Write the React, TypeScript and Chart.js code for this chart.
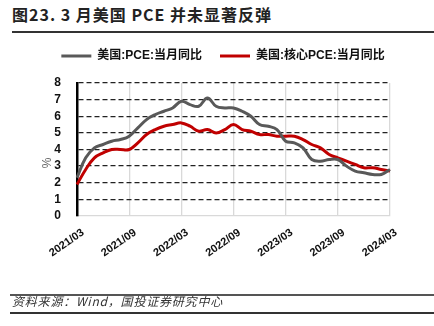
import { useEffect, useRef } from 'react';
import { Chart, registerables } from 'chart.js';

Chart.register(...registerables);

const titleText = '图23. 3 月美国 PCE 并未显著反弹';
const sourceText = '资料来源：Wind，国投证券研究中心';
const unitLabel = '%';

const months = [
  '2021/03', '2021/04', '2021/05', '2021/06', '2021/07', '2021/08', '2021/09',
  '2021/10', '2021/11', '2021/12', '2022/01', '2022/02', '2022/03', '2022/04',
  '2022/05', '2022/06', '2022/07', '2022/08', '2022/09', '2022/10', '2022/11',
  '2022/12', '2023/01', '2023/02', '2023/03', '2023/04', '2023/05', '2023/06',
  '2023/07', '2023/08', '2023/09', '2023/10', '2023/11', '2023/12', '2024/01',
  '2024/02', '2024/03',
];

const seriesNames = ['美国:PCE:当月同比', '美国:核心PCE:当月同比'];

const pceYoY = [
  2.3, 3.5, 4.1, 4.3, 4.5, 4.6, 4.8, 5.3, 5.8, 6.1, 6.3, 6.5, 6.9, 6.7, 6.6,
  7.1, 6.6, 6.5, 6.5, 6.3, 6.0, 5.5, 5.4, 5.2, 4.5, 4.4, 4.1, 3.4, 3.3, 3.4,
  3.4, 3.0, 2.7, 2.6, 2.5, 2.5, 2.8,
];

const corePceYoY = [
  1.9, 2.8, 3.5, 3.8, 4.0, 4.0, 4.0, 4.4, 4.9, 5.2, 5.4, 5.5, 5.6, 5.4, 5.1,
  5.2, 5.0, 5.2, 5.5, 5.2, 5.1, 4.9, 4.9, 4.8, 4.8, 4.8, 4.6, 4.3, 4.1, 3.7,
  3.5, 3.3, 3.1, 2.9, 2.9, 2.8, 2.7,
];

const yMin = 0;
const yMax = 8;
const yStep = 1;
const labelEvery = 6;

const FONT = "'Liberation Sans', 'Noto Sans CJK SC', sans-serif";

const legendGap = {
  id: 'legendGap',
  beforeInit(chart: any) {
    const legend = chart.legend;
    if (!legend) return;
    const origFit = legend.fit;
    legend.fit = function fit() {
      origFit.bind(legend)();
      this.height += 11;
    };
  },
};

const unitPlugin = {
  id: 'unitPlugin',
  afterDraw(chart: any) {
    const { ctx, chartArea } = chart;
    ctx.save();
    ctx.translate(chartArea.left - 29, chartArea.top + (chartArea.bottom - chartArea.top) * 0.6);
    ctx.rotate(-Math.PI / 2);
    ctx.fillStyle = '#666';
    ctx.font = `12px ${FONT}`;
    ctx.textAlign = 'center';
    ctx.textBaseline = 'middle';
    ctx.fillText(unitLabel, 0, 0);
    ctx.restore();
  },
};

export default function App() {
  const ref = useRef<HTMLCanvasElement>(null);

  useEffect(() => {
    if (!ref.current) return;
    const chart = new Chart(ref.current, {
      type: 'line',
      data: {
        labels: months,
        datasets: [
          {
            label: seriesNames[0],
            data: pceYoY,
            borderColor: '#595959',
            backgroundColor: '#595959',
            borderWidth: 3,
            pointRadius: 0,
            tension: 0.4,
            fill: false,
          },
          {
            label: seriesNames[1],
            data: corePceYoY,
            borderColor: '#c00000',
            backgroundColor: '#c00000',
            borderWidth: 3,
            pointRadius: 0,
            tension: 0.4,
            fill: false,
          },
        ],
      },
      options: {
        responsive: false,
        animation: false,
        layout: { padding: { left: 12, right: 0, top: 0, bottom: 20 } },
        plugins: {
          tooltip: { enabled: false },
          legend: {
            position: 'top',
            labels: {
              usePointStyle: true,
              pointStyle: 'line',
              pointStyleWidth: 30,
              padding: 18,
              color: '#111',
              font: { family: FONT, size: 12, weight: 'bold' },
            },
          },
        },
        scales: {
          x: {
            type: 'category',
            offset: false,
            grid: {
              color: '#d9d9d9',
              lineWidth: 1.3,
              drawTicks: false,
            },
            border: { display: true, color: '#d9d9d9', width: 1.3 },
            ticks: {
              autoSkip: false,
              minRotation: 35,
              maxRotation: 35,
              padding: 10,
              labelOffset: 6,
              color: '#111',
              font: { family: FONT, size: 11, weight: 'bold' },
              callback: (_v: any, i: number) => (i % labelEvery === 0 ? months[i] : null),
            },
            afterFit: (scale: any) => {
              scale.height = 60;
            },
          },
          y: {
            min: yMin,
            max: yMax,
            grid: {
              color: (c: any) => (c.tick && c.tick.value === 0 ? 'rgba(0,0,0,0)' : '#222'),
              lineWidth: 1.3,
              drawTicks: false,
            },
            border: { display: true, color: '#000', width: 2.5, dash: [5, 3] },
            ticks: {
              stepSize: yStep,
              autoSkip: false,
              padding: 16,
              color: '#111',
              font: { family: FONT, size: 12, weight: 'bold' },
            },
            afterFit: (scale: any) => {
              scale.width = 65;
            },
          },
          yRight: {
            position: 'right',
            display: true,
            min: yMin,
            max: yMax,
            grid: { display: false, drawTicks: false },
            border: { display: false },
            ticks: { display: false },
            afterFit: (scale: any) => {
              scale.width = 44;
            },
          },
        },
      },
      plugins: [legendGap, unitPlugin],
    } as any);
    return () => chart.destroy();
  }, []);

  return (
    <div
      style={{
        position: 'fixed',
        left: 0,
        top: 0,
        width: 434,
        height: 326,
        background: '#fff',
        overflow: 'hidden',
      }}
    >
      <div
        style={{
          position: 'absolute',
          left: 12,
          top: 4,
          fontFamily: "'Noto Sans CJK SC', 'Liberation Sans', sans-serif",
          fontSize: 16,
          fontWeight: 700,
          letterSpacing: 1,
          lineHeight: '20px',
          color: '#222',
          whiteSpace: 'nowrap',
        }}
      >
        {titleText}
      </div>
      <div style={{ position: 'absolute', left: 12, right: 0, top: 31, height: 2, background: '#333' }} />
      <div style={{ position: 'absolute', left: 0, top: 32, width: 434, height: 264 }}>
        <canvas ref={ref} width={434} height={264} />
      </div>
      <div style={{ position: 'absolute', left: 10, right: 0, top: 294, height: 2, background: '#555' }} />
      <div
        style={{
          position: 'absolute',
          left: 12,
          top: 294,
          fontFamily: "'Noto Sans CJK SC', 'Liberation Sans', sans-serif",
          fontSize: 12,
          fontStyle: 'italic',
          letterSpacing: 0.8,
          lineHeight: '14px',
          color: '#333',
          whiteSpace: 'nowrap',
        }}
      >
        {sourceText}
      </div>
      <div style={{ position: 'absolute', left: 10, right: 0, top: 312, height: 2, background: '#333' }} />
    </div>
  );
}
